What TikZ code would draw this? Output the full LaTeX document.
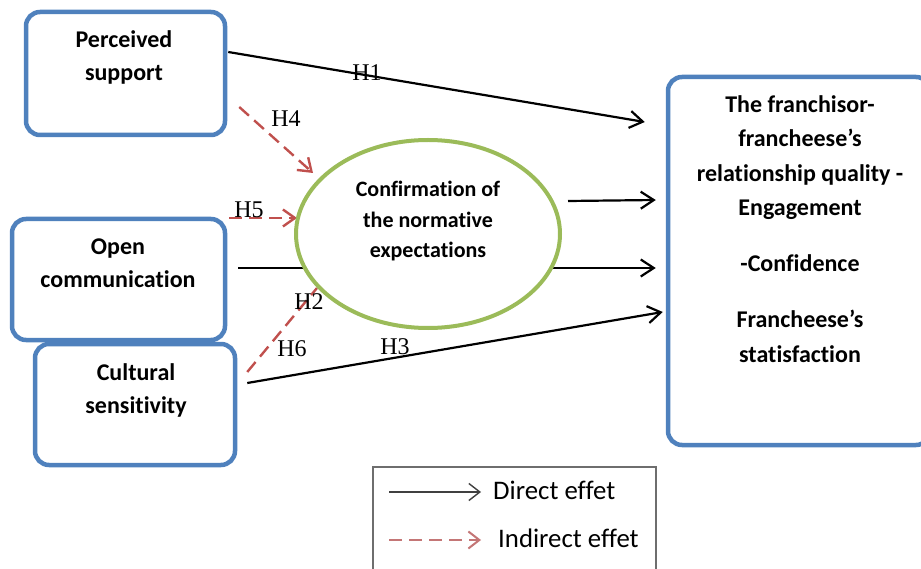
\documentclass[tikz,border=0pt]{standalone}
\usepackage{fontspec}
\setmainfont{Carlito}[Ligatures={NoCommon}]
\newfontfamily\timesf{Liberation Serif}
\usetikzlibrary{arrows.meta,shapes.geometric,backgrounds}
\definecolor{boxblue}{RGB}{79,129,189}
\definecolor{ellgreen}{RGB}{155,187,89}
\definecolor{hred}{RGB}{192,80,77}
\definecolor{legred}{RGB}{196,118,118}
\definecolor{leggray}{RGB}{110,110,110}
\tikzset{
  varbox/.style={draw=boxblue, line width=4.5pt, rounded corners=14pt, fill=white, inner sep=0pt},
  boxtxt/.style={anchor=base, inner sep=0pt, font=\fontsize{24}{28}\selectfont\bfseries},
  elltxt/.style={anchor=base, inner sep=0pt, font=\fontsize{22}{26}\selectfont\bfseries},
  hlab/.style={anchor=base, inner sep=0pt, font=\fontsize{24}{28}\selectfont\timesf},
  legtxt/.style={anchor=base west, inner sep=0pt, font=\fontsize{26.8}{30}\selectfont},
  direct/.style={draw=black, line width=2.2pt, -{Straight Barb[length=13pt,width=17pt,line width=2.2pt]}},
  indirect/.style={draw=hred, line width=2.4pt, dash pattern=on 13pt off 7pt, -{Straight Barb[length=12pt,width=17pt,line width=2.4pt]}},
  indline/.style={draw=hred, line width=2.4pt, dash pattern=on 13pt off 7pt},
}
\begin{document}
\begin{tikzpicture}[x=1pt,y=-1pt]
\useasboundingbox (0,0) rectangle (921,569);
\clip (0,0) rectangle (921,569);

% boxes
\node[varbox, minimum width=199pt, minimum height=123pt] (ps) at (125.5,73.5) {};
\node[varbox, minimum width=213pt, minimum height=121pt] (oc) at (118.5,279.5) {};
\node[varbox, minimum width=200pt, minimum height=121pt] (cs) at (135,404.5) {};
\node[varbox, minimum width=262pt, minimum height=368pt] (rq) at (799,261) {};

\node[boxtxt] (ps1) at (124,48) {Perceived};
\node[boxtxt] (ps2) at (124,81) {support};
\node[boxtxt] (oc1) at (118,255) {Open};
\node[boxtxt] (oc2) at (118,288) {communication};
\node[boxtxt] (cs1) at (136,380) {Cultural};
\node[boxtxt] (cs2) at (136,413) {sensitivity};

\node[boxtxt] (rq1) at (800,113) {The franchisor-};
\node[boxtxt] (rq2) at (800,147) {francheese’s};
\node[boxtxt] (rq3) at (800,182) {relationship quality -};
\node[boxtxt] (rq4) at (800,216) {Engagement};
\node[boxtxt] (rq5) at (800,272) {-Confidence};
\node[boxtxt] (rq6) at (800,327) {Francheese’s};
\node[boxtxt] (rq7) at (800,362) {statisfaction};

% ellipse
\node[ellipse, draw=ellgreen, line width=4pt, fill=white, inner sep=0pt,
      minimum width=264pt, minimum height=188pt] (ell) at (428,234) {};
\node[elltxt] (e1) at (428,197) {Confirmation of};
\node[elltxt] (e2) at (428,228) {the normative};
\node[elltxt] (e3) at (428,258) {expectations};

% connectors behind ellipse
\begin{scope}[on background layer]
\draw[direct] ([xshift=1pt,yshift=21.5pt]ps.east) -- ([xshift=-21pt,yshift=139pt]rq.west);
\draw[indirect] ([xshift=12pt,yshift=-33.5pt]ps.east) -- ([xshift=-115pt,yshift=61pt]ell.center);
\draw[indirect] ([xshift=2pt,yshift=61.5pt]oc.east) -- ([xshift=-131pt,yshift=16pt]ell.center);
\draw[direct] ([xshift=11pt,yshift=11.5pt]oc.east) -- ([xshift=-10pt,yshift=-7pt]rq.west);
\draw[direct] ([xshift=140pt,yshift=33pt]ell.center) -- ([xshift=-10pt,yshift=61pt]rq.west);
\draw[indline] ([xshift=10pt,yshift=32.5pt]cs.east) -- ([xshift=-111pt,yshift=-54pt]ell.center);
\draw[direct] ([xshift=10pt,yshift=21.5pt]cs.east) -- ([xshift=-3pt,yshift=-51pt]rq.west);
\end{scope}

% hypothesis labels
\node[hlab] (h1) at (367,81) {H1};
\node[hlab] (h4) at (286,127) {H4};
\node[hlab] (h5) at (249,218) {H5};
\node[hlab] (h2) at (309,310) {H2};
\node[hlab] (h6) at (292,356) {H6};
\node[hlab] (h3) at (395,355) {H3};

% legend
\node[draw=leggray, line width=1.2pt, fill=white, inner sep=0pt,
      minimum width=283pt, minimum height=108pt] (leg) at (514.5,521) {};
\coordinate (d1) at (389,492);
\coordinate (d2) at (481,492);
\coordinate (i1) at (389,540);
\coordinate (i2) at (481,540);
\draw[black!75, line width=1.4pt, -{Straight Barb[length=11pt,width=17pt,line width=1.4pt]}] (d1) -- (d2);
\draw[legred, line width=2pt, dash pattern=on 13pt off 7pt, -{Straight Barb[length=11pt,width=17pt,line width=2pt]}] (i1) -- (i2);
\node[legtxt] (lt1) at (493,499) {Direct effet};
\node[legtxt] (lt2) at (498,547) {Indirect effet};
\end{tikzpicture}
\end{document}
